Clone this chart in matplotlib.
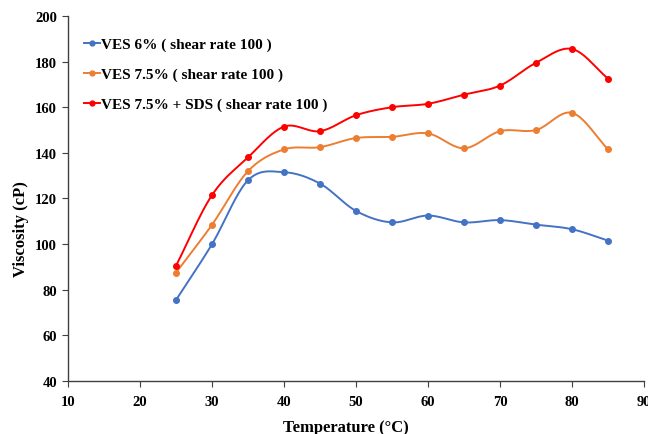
import numpy as np
import matplotlib
matplotlib.use("Agg")
import matplotlib.pyplot as plt
from matplotlib.lines import Line2D

temps = [25, 30, 35, 40, 45, 50, 55, 60, 65, 70, 75, 80, 85]
ves6 = [75.5, 100, 128, 131.5, 126.5, 114.5, 109.5, 112.5, 109.5, 110.5, 108.5, 106.5, 101.5]
ves75 = [87.5, 108.5, 132, 141.5, 142.5, 146.5, 147, 148.5, 142, 149.5, 150, 157.5, 141.5]
ves75_sds = [90.5, 121.5, 138, 151.5, 149.5, 156.5, 160, 161.5, 165.5, 169.5, 179.5, 185.5, 172.5]
labels = ["VES 6% ( shear rate 100 )", "VES 7.5% ( shear rate 100 )", "VES 7.5% + SDS ( shear rate 100 )"]
colors = ["#4472C4", "#ED7D31", "#FF0000"]


def smooth(x, y, n=20):
    x = np.asarray(x, float); y = np.asarray(y, float)
    px = np.concatenate([[2 * x[0] - x[1]], x, [2 * x[-1] - x[-2]]])
    py = np.concatenate([[2 * y[0] - y[1]], y, [2 * y[-1] - y[-2]]])
    xs, ys = [], []
    for i in range(1, len(px) - 2):
        t = np.linspace(0, 1, n, endpoint=False)
        for arr, out in ((px, xs), (py, ys)):
            p0, p1, p2, p3 = arr[i - 1], arr[i], arr[i + 1], arr[i + 2]
            out.append(0.5 * ((2 * p1) + (-p0 + p2) * t + (2 * p0 - 5 * p1 + 4 * p2 - p3) * t ** 2
                              + (-p0 + 3 * p1 - 3 * p2 + p3) * t ** 3))
    xs.append([x[-1]]); ys.append([y[-1]])
    return np.concatenate(xs), np.concatenate(ys)


plt.rcParams['font.family'] = ['Liberation Serif', 'DejaVu Serif']
fig = plt.figure(figsize=(6.48, 4.35), dpi=100)
ax = fig.add_axes([0.105, 0.122, 0.889, 0.839])

handles = []
for ys, c, lab in zip([ves6, ves75, ves75_sds], colors, labels):
    sx, sy = smooth(temps, ys)
    ax.plot(sx, sy, color=c, lw=1.4)
    ax.plot(temps, ys, 'o', color=c, ms=4)
    handles.append(Line2D([0], [0], color=c, lw=1.4, marker='o', ms=3.5, label=lab))

ax.set_xlim(10, 90)
ax.set_ylim(40, 200)
ax.set_xticks(range(10, 91, 10))
ax.set_yticks(range(40, 201, 20))
for s in ['top', 'right']:
    ax.spines[s].set_visible(False)
for s in ['left', 'bottom']:
    ax.spines[s].set_color('#404040')
    ax.spines[s].set_linewidth(1.0)
ax.tick_params(labelsize=10.5, length=4, color='#404040')
ax.tick_params(axis='y', pad=4)
ax.tick_params(axis='x', pad=6)
for lbl in ax.get_xticklabels() + ax.get_yticklabels():
    lbl.set_fontweight('bold')
ax.set_xlabel("Temperature (°C)", fontsize=12, fontweight='bold')
ax.set_ylabel("Viscosity (cP)", fontsize=12, fontweight='bold')
ax.xaxis.set_label_coords(0.483, -0.105)
ax.yaxis.set_label_coords(-0.068, 0.42)

leg = ax.legend(handles=handles, loc='upper left', bbox_to_anchor=(0.01, 0.97), frameon=False,
                prop={'size': 11, 'weight': 'bold'}, handlelength=1.0, handletextpad=0.1,
                labelspacing=1.05, borderaxespad=0.3)

fig.savefig("out.png", dpi=100)
